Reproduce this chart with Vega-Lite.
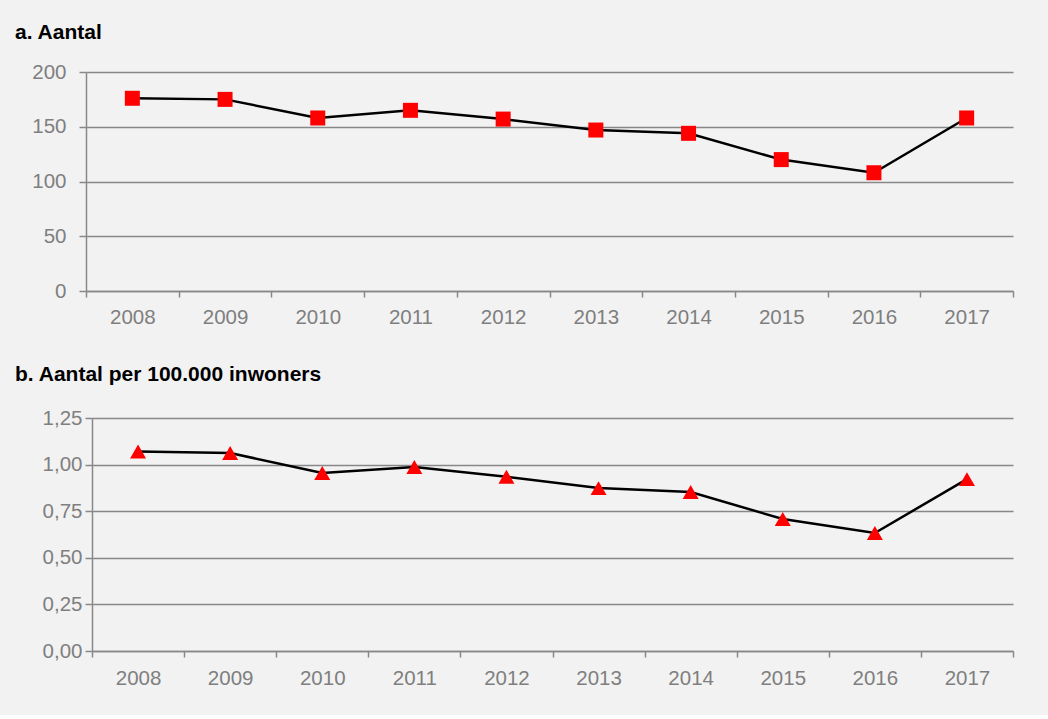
{
  "$schema": "https://vega.github.io/schema/vega-lite/v6.json",
  "background": "#f2f2f2",
  "padding": {"left": 15, "top": 22, "right": 33, "bottom": 26},
  "datasets": {
    "d": [
      {"jaar": "2008", "aantal": 176, "per100k": 1.07},
      {"jaar": "2009", "aantal": 175, "per100k": 1.062},
      {"jaar": "2010", "aantal": 158, "per100k": 0.955},
      {"jaar": "2011", "aantal": 165, "per100k": 0.987},
      {"jaar": "2012", "aantal": 157, "per100k": 0.935},
      {"jaar": "2013", "aantal": 147, "per100k": 0.874},
      {"jaar": "2014", "aantal": 144, "per100k": 0.853},
      {"jaar": "2015", "aantal": 120, "per100k": 0.708},
      {"jaar": "2016", "aantal": 108, "per100k": 0.633},
      {"jaar": "2017", "aantal": 158, "per100k": 0.922}
    ]
  },
  "spacing": 36,
  "vconcat": [
    {
      "width": 921,
      "height": 219,
      "data": {"name": "d"},
      "title": {"text": "a. Aantal", "dx": -77, "offset": 19},
      "encoding": {
        "x": {"field": "jaar", "type": "ordinal", "scale": {"paddingInner": 0, "paddingOuter": 0, "range": [-6, 921]},
              "axis": {"title": null, "labelAngle": 0, "tickBand": "extent", "tickSize": 6, "labelPadding": 10}},
        "y": {"field": "aantal", "type": "quantitative", "scale": {"domain": [0, 200], "nice": false},
              "axis": {"title": null, "values": [0, 50, 100, 150, 200], "tickSize": 7, "labelPadding": 13, "grid": true, "offset": 6}}
      },
      "layer": [
        {"mark": {"type": "line", "color": "#000000", "strokeWidth": 2.5}},
        {"mark": {"type": "point", "shape": "square", "filled": true, "color": "#ff0000", "opacity": 1, "size": 225}}
      ]
    },
    {
      "width": 921,
      "height": 233,
      "data": {"name": "d"},
      "title": {"text": "b. Aantal per 100.000 inwoners", "dx": -77, "offset": 23},
      "encoding": {
        "x": {"field": "jaar", "type": "ordinal", "scale": {"paddingInner": 0, "paddingOuter": 0},
              "axis": {"title": null, "labelAngle": 0, "tickBand": "extent", "tickSize": 6, "labelPadding": 11}},
        "y": {"field": "per100k", "type": "quantitative", "scale": {"domain": [0, 1.25], "nice": false},
              "axis": {"title": null, "values": [0, 0.25, 0.5, 0.75, 1, 1.25], "tickSize": 7, "labelPadding": 3, "grid": true,
                       "labelExpr": "replace(format(datum.value, '.2f'), '.', ',')"}}
      },
      "layer": [
        {"mark": {"type": "line", "color": "#000000", "strokeWidth": 2.5}},
        {"mark": {"type": "point", "shape": "triangle-up", "filled": true, "color": "#ff0000", "opacity": 1, "size": 256}}
      ]
    }
  ],
  "config": {
    "font": "Liberation Sans",
    "view": {"stroke": null},
    "title": {"anchor": "start", "frame": "group", "fontSize": 21, "fontWeight": "bold", "color": "#000000", "font": "Liberation Sans", "baseline": "alphabetic"},
    "axis": {
      "domainColor": "#888888", "domainWidth": 1.5,
      "tickColor": "#888888", "tickWidth": 1.5,
      "gridColor": "#888888", "gridWidth": 1.5, "gridOpacity": 1,
      "labelColor": "#7f7f7f", "labelFontSize": 20.5, "labelFont": "Liberation Sans"
    }
  }
}
